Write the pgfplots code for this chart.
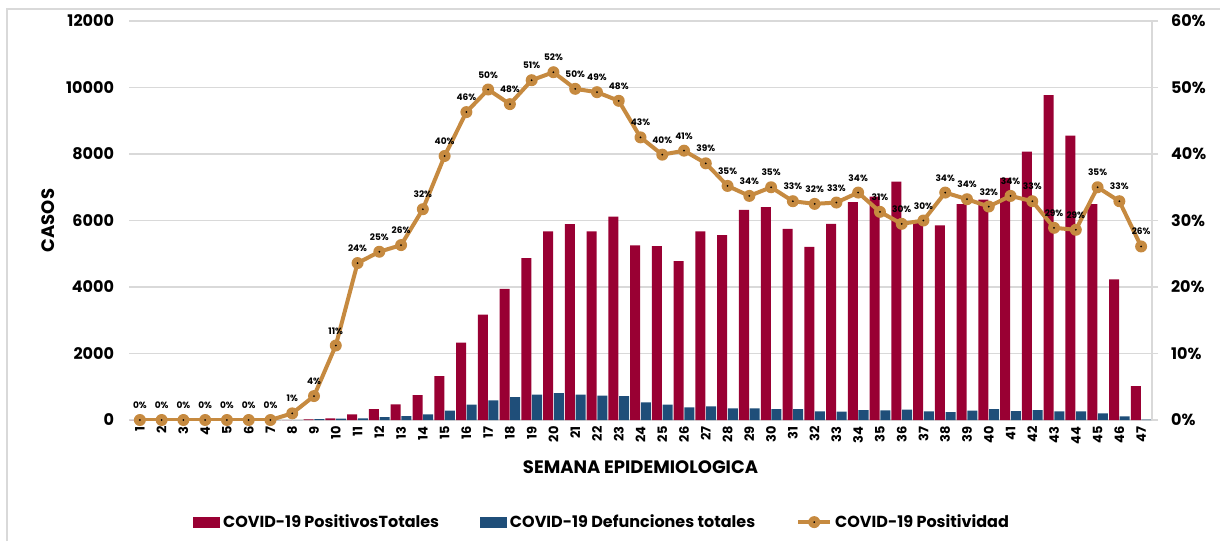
\documentclass[border=0pt]{standalone}
\usepackage{fontspec}
\setmainfont{Poppins}
\usepackage{pgfplots}
\usepackage{pgfplotstable}
\pgfplotsset{compat=1.18}
\definecolor{redc}{HTML}{990033}
\definecolor{bluec}{HTML}{1F4E79}
\definecolor{orc}{HTML}{C68A40}
\definecolor{gridc}{HTML}{D9D9D9}

\pgfdeclareplotmark{dotcirc}{%
  \pgfpathcircle{\pgfpointorigin}{\pgfplotmarksize}\pgfsetfillcolor{orc}\pgfusepathqfill
  \pgfpathcircle{\pgfpointorigin}{0.5pt}\pgfsetfillcolor{black}\pgfusepathqfill}

\pgfplotstableread{
w pos def
1 0 0
2 0 0
3 0 0
4 0 0
5 0 0
6 0 0
7 0 0
8 0 0
9 20 30
10 50 40
11 170 50
12 330 90
13 470 120
14 750 170
15 1320 280
16 2330 460
17 3170 590
18 3940 690
19 4870 760
20 5670 810
21 5890 760
22 5670 730
23 6120 720
24 5250 530
25 5230 460
26 4780 380
27 5670 410
28 5560 350
29 6320 350
30 6400 330
31 5750 330
32 5210 260
33 5900 250
34 6550 300
35 6720 290
36 7170 310
37 5960 260
38 5850 240
39 6490 280
40 6630 330
41 7280 270
42 8070 300
43 9770 260
44 8550 260
45 6490 200
46 4230 110
47 1020 10
}\bars

\pgfplotstableread{
w p lab
1 0 0
2 0 0
3 0 0
4 0 0
5 0 0
6 0 0
7 0 0
8 1.0 1
9 3.6 4
10 11.2 11
11 23.6 24
12 25.3 25
13 26.3 26
14 31.7 32
15 39.7 40
16 46.3 46
17 49.7 50
18 47.5 48
19 51.1 51
20 52.3 52
21 49.8 50
22 49.3 49
23 48.0 48
24 42.5 43
25 39.9 40
26 40.5 41
27 38.6 39
28 35.2 35
29 33.7 34
30 35.0 35
31 32.9 33
32 32.5 32
33 32.7 33
34 34.2 34
35 31.3 31
36 29.5 30
37 30.0 30
38 34.2 34
39 33.2 34
40 32.1 32
41 33.7 34
42 32.9 33
43 28.9 29
44 28.6 29
45 35.0 35
46 32.9 33
47 26.1 26
}\posit

\pgfplotsset{
  common/.style={
    at={(64.5pt,60.5pt)}, anchor=south west, scale only axis,
    width=511.5pt, height=199.5pt,
    xmin=0.5, xmax=47.5,
    scaled y ticks=false,
    /pgf/number format/assume math mode=true,
    /pgf/number format/1000 sep={},
    /pgf/number format/fixed,
    tick label style={font=\bfseries\fontsize{8}{9}\selectfont},
  },
  redleg/.style={legend image code/.code={\fill[redc] (0pt,-2.5pt) rectangle (13pt,2.5pt);}},
  blueleg/.style={legend image code/.code={\fill[bluec] (0pt,-2.5pt) rectangle (13pt,2.5pt);}},
  orleg/.style={legend image code/.code={\draw[##1, mark repeat=2, mark phase=2] plot coordinates {(0pt,0pt) (8pt,0pt) (16pt,0pt)};}},
}

\begin{document}
\begin{tikzpicture}
\path[use as bounding box] (0,0) rectangle (610pt,270.5pt);
\draw[gridc, line width=0.6pt] (3.5pt,0) -- (3.5pt,266pt) -- (610pt,266pt);

\begin{axis}[common,
  ymin=0, ymax=12000,
  ytick={0,2000,...,12000},
  xtick={1,...,47},
  axis x line*=bottom, axis y line*=left,
  y axis line style={draw=none},
  x axis line style={gridc, line width=0.8pt},
  ymajorgrids, grid style={gridc, line width=0.6pt},
  major tick length=0pt,
  yticklabel style={xshift=-4pt},
  xticklabel style={rotate=90, anchor=east, font=\bfseries\fontsize{6.5}{7}\selectfont, inner sep=3pt},
  xlabel={SEMANA EPIDEMIOLOGICA},
  ylabel={CASOS},
  xlabel style={at={(axis description cs:0.5,-0.118)}, anchor=center, font=\bfseries\fontsize{9}{10}\selectfont},
  ylabel style={at={(axis description cs:-0.079,0.5)}, anchor=center, rotate=0, font=\bfseries\fontsize{9}{10}\selectfont},
]
\addplot[ybar, bar width=0.46, bar shift=-0.245, fill=redc, draw=none] table[x=w,y=pos]{\bars};
\addplot[ybar, bar width=0.46, bar shift=0.245, fill=bluec, draw=none] table[x=w,y=def]{\bars};
\end{axis}

\begin{axis}[common,
  ymin=0, ymax=60,
  ytick={0,10,...,60},
  yticklabel={\pgfmathprintnumber{\tick}\%},
  axis y line*=right, axis x line=none,
  y axis line style={gridc, line width=0.8pt},
  ytick style={gridc, line width=0.6pt},
  major tick length=3pt, tick align=outside,
  yticklabel style={xshift=3pt},
  legend columns=3,
  legend style={draw=none, fill=none, at={(axis description cs:0.463,-0.256)}, anchor=center,
    font=\bfseries\fontsize{8}{9}\selectfont,
    /tikz/every even column/.append style={column sep=19pt},
    nodes={inner sep=1.5pt}},
  legend cell align=left,
]
\addlegendimage{redleg}
\addlegendentry{COVID-19 PositivosTotales}
\addlegendimage{blueleg}
\addlegendentry{COVID-19 Defunciones totales}
\addplot[orc, line width=2pt, mark=dotcirc, mark size=3pt, orleg]
  table[x=w,y=p]{\posit};
\addlegendentry{COVID-19 Positividad}
\addplot[draw=none, mark=none, forget plot,
  nodes near coords={\pgfplotspointmeta\%}, point meta=explicit symbolic,
  nodes near coords style={text=black, font=\bfseries\fontsize{4.5}{5}\selectfont, anchor=south, yshift=4.5pt, inner sep=1pt}]
  table[x=w,y=p,meta=lab]{\posit};
\end{axis}
\end{tikzpicture}
\end{document}
